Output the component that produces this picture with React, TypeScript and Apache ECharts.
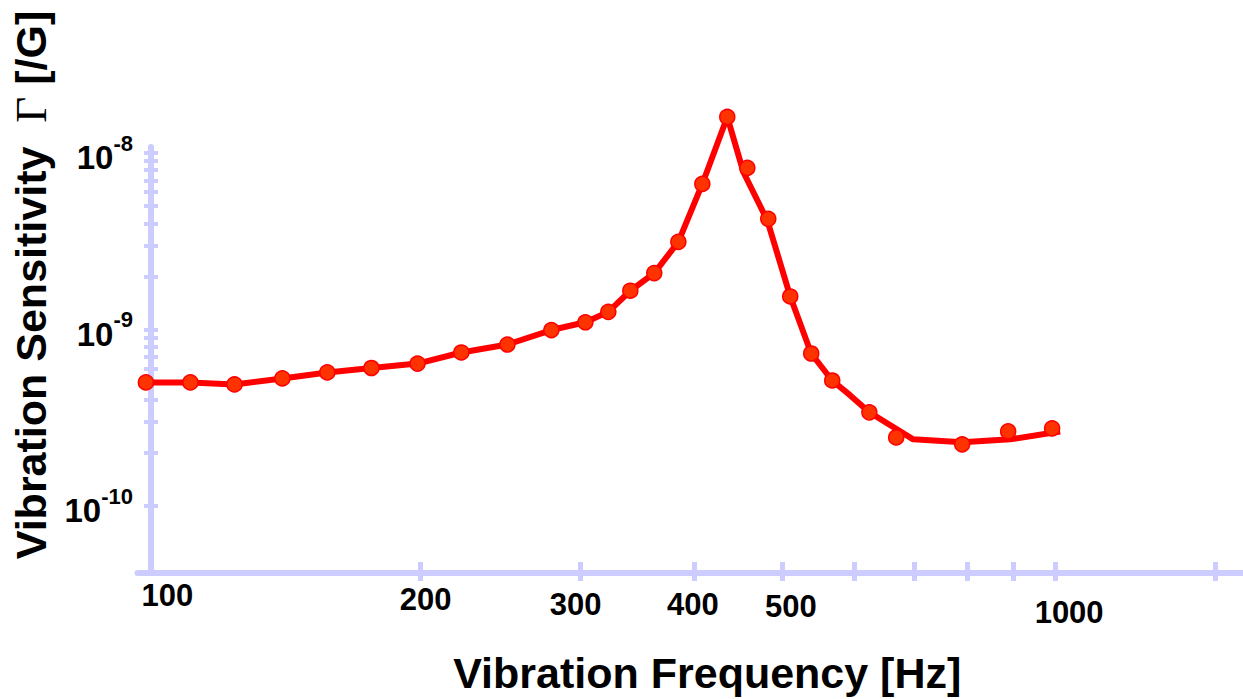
import React, { useEffect, useRef } from "react";
import * as echarts from "echarts";

// Measured data points (markers)
const markerFreq = [99.6, 111.5, 124.7, 140.8, 157.8, 176.5, 198.4, 221.7, 249.2, 278.6, 303.7, 321.9, 340.4, 361.7, 384.5, 408.6, 435.3, 458.0, 483.0, 510.7, 538.6, 568.1, 624.2, 668.2, 789.9, 887.7, 992.4];
const markerSens = [5.02e-10, 5.02e-10, 4.89e-10, 5.29e-10, 5.72e-10, 6.06e-10, 6.42e-10, 7.42e-10, 8.23e-10, 9.94e-10, 1.10e-9, 1.26e-9, 1.66e-9, 2.09e-9, 3.14e-9, 6.68e-9, 1.60e-8, 8.23e-9, 4.24e-9, 1.54e-9, 7.32e-10, 5.15e-10, 3.40e-10, 2.45e-10, 2.24e-10, 2.65e-10, 2.76e-10];

// Curve through the data
const curveFreq = [99.8, 111.5, 124.7, 140.8, 157.8, 176.5, 198.4, 221.7, 249.2, 278.6, 303.7, 321.9, 340.4, 361.7, 384.5, 408.6, 435.3, 453.4, 482.0, 510.7, 538.6, 568.1, 594.7, 624.2, 697.6, 789.9, 892.2, 1012.8];
const curveSens = [5.02e-10, 5.02e-10, 4.89e-10, 5.29e-10, 5.72e-10, 6.06e-10, 6.42e-10, 7.42e-10, 8.23e-10, 9.94e-10, 1.10e-9, 1.26e-9, 1.66e-9, 2.09e-9, 3.14e-9, 6.68e-9, 1.60e-8, 7.81e-9, 4.13e-9, 1.54e-9, 7.32e-10, 5.15e-10, 4.24e-10, 3.40e-10, 2.39e-10, 2.30e-10, 2.39e-10, 2.65e-10];

// Axis ticks / labels
const xTickValues = [200, 300, 400, 500, 600, 700, 800, 900, 1000, 1500];
const xLabelValues = [100, 200, 300, 400, 500, 1000];
const yTickValues = [1e-10, 2e-10, 3e-10, 4e-10, 5e-10, 6e-10, 7e-10, 8e-10, 9e-10, 1e-9, 2e-9, 3e-9, 4e-9, 5e-9, 6e-9, 7e-9, 8e-9, 9e-9, 1e-8];
const yLabelExponents = [-10, -9, -8];

const X_LOG_MIN = 1.989;
const X_LOG_MAX = 3.207;
const Y_LOG_MIN = -10.3785;
const Y_LOG_MAX = -7.966;

const lg = (v: number) => Math.log10(v);
const FONT = "'Liberation Sans', Arial, Helvetica, sans-serif";
const AXIS_COLOR = "#ccccff";

// small label nudges [dx, dy] (style only)
const xLabelNudge: Record<string, [number, number]> = {
  "100": [20, 0],
  "200": [5, 4],
  "300": [-5, 9],
  "400": [-1, 9],
  "500": [9, 11],
  "1000": [14, 17],
};

export default function App() {
  const ref = useRef<HTMLDivElement>(null);

  useEffect(() => {
    if (!ref.current) return;
    const chart = echarts.init(ref.current, null, { renderer: "svg" });

    const xRich: any = {};
    Object.keys(xLabelNudge).forEach((k) => {
      const [dx, dy] = xLabelNudge[k];
      xRich["t" + k] = {
        fontSize: 31,
        fontWeight: "bold",
        fontFamily: FONT,
        color: "#000",
        padding: [dy, dx < 0 ? -2 * dx : 0, 0, dx > 0 ? 2 * dx : 0],
      };
    });

    const commonX = {
      type: "value",
      position: "bottom",
      min: X_LOG_MIN,
      max: X_LOG_MAX,
      splitLine: { show: false },
    };
    const commonY = {
      type: "value",
      position: "left",
      offset: -13.5,
      min: Y_LOG_MIN,
      max: Y_LOG_MAX,
      splitLine: { show: false },
    };

    const option: any = {
      animation: false,
      backgroundColor: "#ffffff",
      grid: { left: 137, right: 0, top: 147, bottom: 125, containLabel: false },
      xAxis: [
        {
          ...commonX,
          axisLine: { show: true, onZero: false, lineStyle: { color: AXIS_COLOR, width: 6 } },
          axisTick: {
            show: true,
            inside: true,
            length: 11,
            lineStyle: { color: AXIS_COLOR, width: 5 },
            customValues: xTickValues.map(lg),
          },
          axisLabel: {
            show: true,
            customValues: xLabelValues.map(lg),
            margin: 7,
            fontSize: 31,
            fontWeight: "bold",
            fontFamily: FONT,
            color: "#000",
            formatter: (v: number) => {
              const n = Math.round(Math.pow(10, v));
              return `{t${n}|${n}}`;
            },
            rich: xRich,
          },
          name: "Vibration Frequency [Hz]",
          nameLocation: "middle",
          nameGap: 78,
          nameTextStyle: {
            fontSize: 43,
            fontWeight: "bold",
            fontFamily: FONT,
            color: "#000",
            padding: [0, 0, 0, 34],
          },
        },
        {
          ...commonX,
          axisLine: { show: false, onZero: false },
          axisTick: {
            show: true,
            inside: false,
            length: 8,
            lineStyle: { color: AXIS_COLOR, width: 5 },
            customValues: xTickValues.map(lg),
          },
          axisLabel: { show: false },
        },
      ],
      yAxis: [
        {
          ...commonY,
          axisLine: { show: true, onZero: false, lineStyle: { color: AXIS_COLOR, width: 6 } },
          axisTick: {
            show: true,
            inside: true,
            length: 7,
            lineStyle: { color: AXIS_COLOR, width: 4 },
            customValues: yTickValues.map(lg),
          },
          axisLabel: {
            show: true,
            customValues: yLabelExponents,
            margin: 18,
            formatter: (v: number) => `{b|10}{s|${Math.round(v)}}`,
            rich: {
              b: { fontSize: 33, fontWeight: "bold", fontFamily: FONT, color: "#000", padding: [9, 0, 0, 0] },
              s: { fontSize: 22, fontWeight: "bold", fontFamily: FONT, color: "#000", verticalAlign: "top" },
            },
          },
          name: "{a|Vibration Sensitivity  }{g|Γ}{a| [/G]}",
          nameLocation: "middle",
          nameRotate: 90,
          nameGap: 98,
          nameTextStyle: {
            padding: [0, 0, 0, 150],
            rich: {
              a: { fontSize: 43, fontWeight: "bold", fontFamily: FONT, color: "#000" },
              g: { fontSize: 45, fontWeight: "normal", fontFamily: "'Liberation Serif', 'Times New Roman', serif", color: "#000" },
            },
          },
        },
        {
          ...commonY,
          axisLine: { show: false, onZero: false },
          axisTick: {
            show: true,
            inside: false,
            length: 7,
            lineStyle: { color: AXIS_COLOR, width: 4 },
            customValues: yTickValues.map(lg),
          },
          axisLabel: { show: false },
        },
      ],
      series: [
        {
          type: "line",
          xAxisIndex: 0,
          yAxisIndex: 0,
          data: curveFreq.map((f, i) => [lg(f), lg(curveSens[i])]),
          symbol: "none",
          showSymbol: false,
          clip: false,
          lineStyle: { color: "#ff0000", width: 6, join: "round" },
          z: 2,
        },
        {
          type: "scatter",
          xAxisIndex: 0,
          yAxisIndex: 0,
          data: markerFreq.map((f, i) => [lg(f), lg(markerSens[i])]),
          symbol: "circle",
          symbolSize: 15,
          clip: false,
          itemStyle: { color: "#ff3300", borderColor: "#ff0000", borderWidth: 1.5, opacity: 1 },
          z: 3,
        },
      ],
    };

    chart.setOption(option);
    return () => chart.dispose();
  }, []);

  return (
    <div
      ref={ref}
      style={{ position: "fixed", left: 0, top: 0, width: 1243, height: 699, background: "#fff" }}
    />
  );
}
